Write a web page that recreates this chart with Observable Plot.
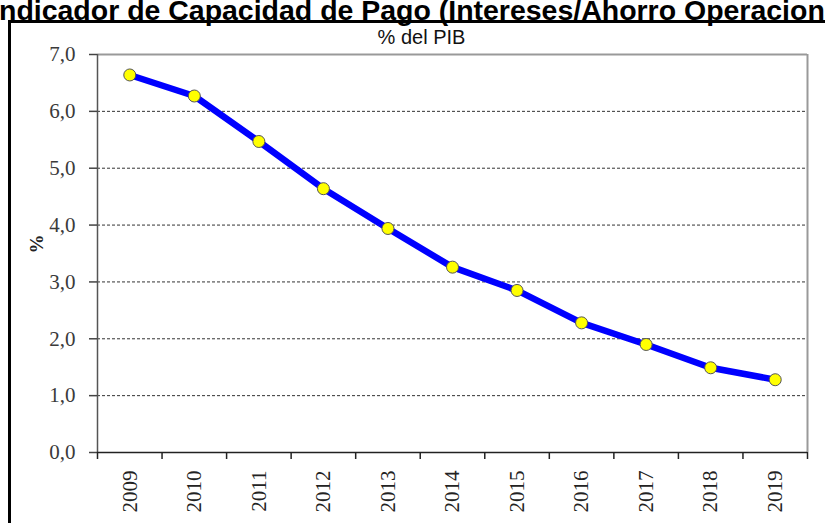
<!DOCTYPE html>
<html>
<head>
<meta charset="utf-8">
<script src="https://cdn.jsdelivr.net/npm/d3@7"></script>
<script src="https://cdn.jsdelivr.net/npm/@observablehq/plot@0.6"></script>
<style>
  html, body { margin: 0; padding: 0; background: #fff; }
  #wrap { position: relative; width: 825px; height: 523px; overflow: hidden; background: #fff; }
  #box { position: absolute; left: 8px; top: 20px; width: 900px; height: 600px; border: 3px solid #000; box-sizing: border-box; }
  #title { position: absolute; top: -4px; white-space: nowrap; font-family: "Liberation Sans", Arial, sans-serif; font-weight: bold; color: #000; line-height: 1; }
  #chart { position: absolute; left: 0; top: 0; }
</style>
</head>
<body>
<div id="wrap">
  <div id="box"></div>
  <div id="title"></div>
  <div id="chart"></div>
</div>
<script>
const titleText = "Indicador de Capacidad de Pago (Intereses/Ahorro Operacional)";
const subtitleText = "% del PIB";
const yLabel = "%";
const years = [2009, 2010, 2011, 2012, 2013, 2014, 2015, 2016, 2017, 2018, 2019];
const values = [6.64, 6.27, 5.47, 4.64, 3.94, 3.26, 2.85, 2.28, 1.90, 1.49, 1.28];
const yTicks = [0, 1, 2, 3, 4, 5, 6, 7];
const gridValues = [1, 2, 3, 4, 5, 6];

const data = years.map((year, i) => ({year, value: values[i]}));
const bounds = d3.range(years[0] - 0.5, years[years.length - 1] + 1, 1);
const fmt = d => d.toFixed(1).replace(".", ",");

// Title sizing: the visible part runs off both edges like the reference
const titleEl = document.getElementById("title");
const ctx = document.createElement("canvas").getContext("2d");
ctx.font = "bold 20px 'Liberation Sans'";
const visible = titleText.slice(1, titleText.indexOf("Operacion") + 9);
const fs = 20 * 826 / ctx.measureText(visible).width;
ctx.font = `bold ${fs}px 'Liberation Sans'`;
titleEl.style.fontSize = fs + "px";
titleEl.style.left = (-ctx.measureText("I").width - 1) + "px";
titleEl.textContent = titleText;

const chart = Plot.plot({
  width: 825,
  height: 523,
  marginLeft: 97,
  marginRight: 18,
  marginTop: 54,
  marginBottom: 71,
  style: {background: "transparent", overflow: "visible"},
  x: {type: "linear", domain: [years[0] - 0.5, years[years.length - 1] + 0.5]},
  y: {domain: [0, 7]},
  marks: [
    Plot.ruleY(gridValues, {stroke: "#333", strokeWidth: 1, strokeDasharray: "3,2"}),
    Plot.ruleY([7], {stroke: "#999", strokeWidth: 2}),
    Plot.ruleX([bounds[bounds.length - 1]], {stroke: "#999", strokeWidth: 2}),
    Plot.ruleX([bounds[0]], {stroke: "#555", strokeWidth: 1.5}),
    Plot.ruleY([0], {stroke: "#222", strokeWidth: 1.5}),
    Plot.axisY({ticks: yTicks, tickSize: 8, tickPadding: 14, tickFormat: fmt, stroke: "#444", strokeWidth: 1.5,
      fontSize: 21, fontFamily: "Liberation Serif", fill: "#3a3a3a", label: null}),
    Plot.axisX({ticks: bounds, tickSize: 7, tickFormat: () => "", stroke: "#222", strokeWidth: 1.5, label: null}),
    Plot.axisX({ticks: years, tickSize: 0, tickPadding: 18, tickRotate: -90, tickFormat: d => String(d),
      fontSize: 21, fontFamily: "Liberation Serif", fill: "#222", label: null}),
    Plot.text([yLabel], {frameAnchor: "left", dx: -61, dy: 0, rotate: -90, fontSize: 19,
      fontFamily: "Liberation Serif", fontWeight: "bold", fill: "#222"}),
    Plot.text([subtitleText], {frameAnchor: "top", dx: -31, dy: -11, lineAnchor: "bottom", fontSize: 20,
      fontFamily: "Liberation Sans", fill: "#111"}),
    Plot.line(data, {x: "year", y: "value", stroke: "#0000ff", strokeWidth: 6.5, strokeLinejoin: "round"}),
    Plot.dot(data, {x: "year", y: "value", r: 6, fill: "#ffff00", stroke: "#555", strokeWidth: 1})
  ]
});
document.getElementById("chart").appendChild(chart);
</script>
</body>
</html>
